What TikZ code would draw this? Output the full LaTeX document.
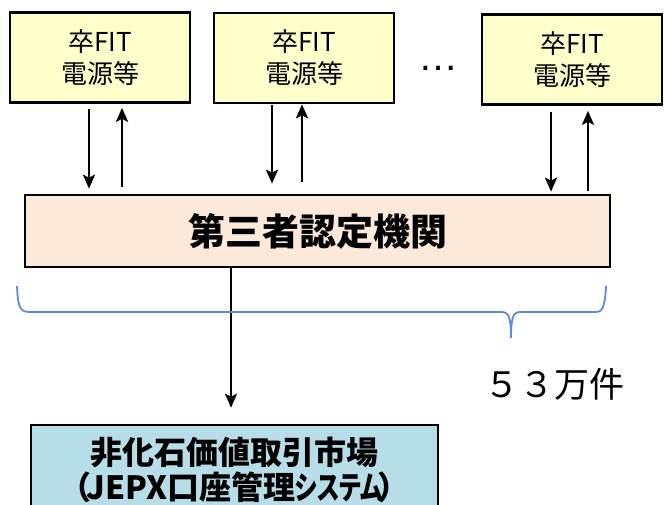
\documentclass[tikz,border=0pt]{standalone}
\usepackage{fontspec}
\setmainfont{Noto Sans CJK JP}
\newfontfamily\propfont{Noto Sans CJK JP}[RawFeature={+palt}]
\newfontfamily\latinfont{Liberation Sans}
\usetikzlibrary{arrows.meta,calc}
\definecolor{srcfill}{RGB}{255,255,204}
\definecolor{orgfill}{RGB}{253,233,217}
\definecolor{mktfill}{RGB}{183,222,232}
\definecolor{bracecol}{RGB}{91,141,213}
\tikzset{
  srcbox/.style={draw=black, line width=2.6pt, fill=srcfill, minimum width=180pt, minimum height=90pt, inner sep=0pt, align=center, font=\fontsize{26}{32}\selectfont},
  orgbox/.style={draw=black, line width=2.6pt, fill=orgfill, minimum width=585pt, minimum height=72pt, inner sep=0pt, font=\bfseries\fontsize{37}{40}\selectfont},
  mktbox/.style={draw=black, line width=2.6pt, fill=mktfill, minimum width=407pt, minimum height=89pt, inner sep=0pt, align=center, font=\bfseries\fontsize{32}{35}\selectfont},
  arr/.style={line width=2.6pt, -{Stealth[length=14pt,width=12pt,inset=3pt]}},
  bracestyle/.style={draw=bracecol, line width=1.8pt}
}
\begin{document}
\begin{tikzpicture}[x=1pt,y=-1pt]
\useasboundingbox (0,0) rectangle (664,505);
\node[srcbox] (s1) at (100,57.5) {卒FIT\\電源等};
\node[srcbox] (s2) at (304,58) {卒FIT\\電源等};
\node[srcbox] (s3) at (572,59.5) {卒FIT\\電源等};
\node[anchor=base, font=\latinfont\fontsize{40}{40}\selectfont, inner sep=0pt] (dots) at (438,70.5) {…};
\node[orgbox] (org) at (317.5,231) {第三者認定機関};
\node[mktbox] (mkt) at (234.5,469.5) {非化石価値取引市場\\{\propfont\bfseries（\kern-4pt JEPX口座管理\scalebox{0.74}[1]{システム}\kern-4pt）}};
\node[font=\fontsize{35}{35}\selectfont, inner sep=0pt] (count) at (554,384) {５３万件};
% arrows between sources and organisation
\draw[arr] ($(s1.south)+(-11,5)$) -- ($(s1.south |- org.north)+(-11,-5)$);
\draw[arr] ($(s1.south |- org.north)+(22,-7)$) -- ($(s1.south)+(22,4)$);
\draw[arr] ($(s2.south)+(-32,1)$) -- ($(s2.south |- org.north)+(-32,-10)$);
\draw[arr] ($(s2.south |- org.north)+(-2,-12)$) -- ($(s2.south)+(-2,0)$);
\draw[arr] ($(s3.south)+(-21,6)$) -- ($(s3.south |- org.north)+(-21,-2)$);
\draw[arr] ($(s3.south |- org.north)+(16,-3)$) -- ($(s3.south)+(16,5)$);
% organisation to market
\draw[arr, line width=2pt] ($(org.south)+(-86.5,0)$) -- ($(org.south |- mkt.north)+(-86.5,-16)$);
% brace
\draw[bracestyle] (17,286) .. controls (18,308) and (20,312) .. (30,312) -- (501,312)
  .. controls (508,312) and (511,315) .. (511,338)
  .. controls (511,315) and (514,312) .. (521,312) -- (596,312)
  .. controls (602,312) and (605,308) .. (606,286);
\end{tikzpicture}
\end{document}
